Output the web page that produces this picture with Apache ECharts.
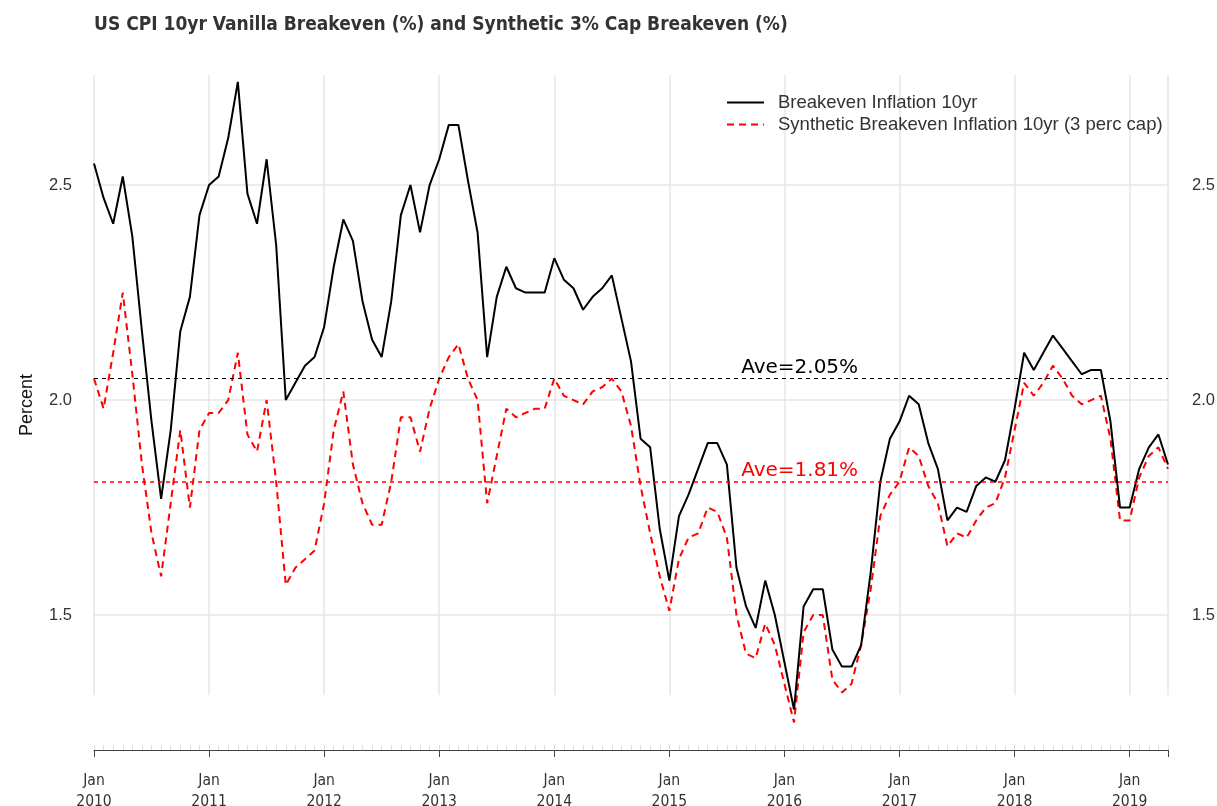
<!DOCTYPE html>
<html>
<head>
<meta charset="UTF-8">
<title>US CPI 10yr Breakeven</title>
<script src="https://cdn.jsdelivr.net/npm/echarts@6/dist/echarts.min.js"></script>
<style>
  html, body { margin: 0; padding: 0; background: #fff; overflow: hidden; }
  #main { width: 1217px; height: 806px; }
</style>
</head>
<body>
<div id="main"></div>
<script>
// monthly, Jan 2010 .. May 2019
var months = [];
for (var y = 2010; y <= 2019; y++) {
  for (var m = 1; m <= 12; m++) {
    if (y === 2019 && m > 5) break;
    months.push(y + '-' + (m < 10 ? '0' + m : m));
  }
}

var vanilla = [
  2.55, 2.47, 2.41, 2.52, 2.38, 2.16, 1.95, 1.77, 1.93, 2.16, 2.24, 2.43,
  2.50, 2.52, 2.61, 2.74, 2.48, 2.41, 2.56, 2.36, 2.00, 2.04, 2.08, 2.10,
  2.17, 2.31, 2.42, 2.37, 2.23, 2.14, 2.10, 2.23, 2.43, 2.50, 2.39, 2.50,
  2.56, 2.64, 2.64, 2.51, 2.39, 2.10, 2.24, 2.31, 2.26, 2.25, 2.25, 2.25,
  2.33, 2.28, 2.26, 2.21, 2.24, 2.26, 2.29, 2.19, 2.09, 1.91, 1.89, 1.70,
  1.58, 1.73, 1.78, 1.84, 1.90, 1.90, 1.85, 1.61, 1.52, 1.47, 1.58, 1.50,
  1.39, 1.28, 1.52, 1.56, 1.56, 1.42, 1.38, 1.38, 1.43, 1.60, 1.81, 1.91,
  1.95, 2.01, 1.99, 1.90, 1.84, 1.72, 1.75, 1.74, 1.80, 1.82, 1.81, 1.86,
  1.98, 2.11, 2.07, 2.11, 2.15, 2.12, 2.09, 2.06, 2.07, 2.07, 1.95, 1.75,
  1.75, 1.84, 1.89, 1.92, 1.85
];

var synthetic = [
  2.05, 1.98, 2.11, 2.25, 2.06, 1.85, 1.69, 1.59, 1.76, 1.93, 1.75, 1.93,
  1.97, 1.97, 2.00, 2.11, 1.92, 1.88, 2.00, 1.81, 1.57, 1.61, 1.63, 1.65,
  1.76, 1.93, 2.02, 1.85, 1.76, 1.71, 1.71, 1.81, 1.96, 1.96, 1.88, 1.98,
  2.05, 2.10, 2.13, 2.05, 2.00, 1.76, 1.87, 1.98, 1.96, 1.97, 1.98, 1.98,
  2.05, 2.01, 2.00, 1.99, 2.02, 2.03, 2.05, 2.02, 1.94, 1.80, 1.69, 1.59,
  1.51, 1.63, 1.68, 1.69, 1.75, 1.74, 1.68, 1.50, 1.41, 1.40, 1.48, 1.43,
  1.34, 1.25, 1.46, 1.50, 1.50, 1.35, 1.32, 1.34, 1.43, 1.56, 1.73, 1.78,
  1.81, 1.89, 1.87, 1.80, 1.76, 1.66, 1.69, 1.68, 1.72, 1.75, 1.76, 1.82,
  1.93, 2.04, 2.01, 2.04, 2.08, 2.05, 2.01, 1.99, 2.00, 2.01, 1.91, 1.72,
  1.72, 1.82, 1.87, 1.89, 1.84
];

var aveVanilla = 2.05;
var aveSynthetic = 1.81;
var yTicks = [1.5, 2.0, 2.5];
var labelMonth = '2016-03';

var narrow = '"DejaVu Sans Condensed", "Liberation Sans", sans-serif';

var last = months.length - 1;
function isJan(i) { return months[i].slice(5) === '01'; }
function janOrEnd(i) { return isJan(i) || i === last; }

// average line from first to last month, drawn as a two-point markLine
function aveLine(v, color, w) {
  return [
    { coord: [months[0], v], lineStyle: { color: color, type: [4, 4], width: w } },
    { coord: [months[last], v] }
  ];
}
function aveLabel(v, color) {
  return {
    coord: [labelMonth, v],
    label: {
      show: true, position: 'top', distance: 1, offset: [-4, 0],
      formatter: 'Ave=' + v.toFixed(2) + '%',
      fontFamily: 'DejaVu Sans', fontSize: 20, color: color
    }
  };
}

var chart = echarts.init(document.getElementById('main'));

var yBase = {
  type: 'value',
  min: 1.314,
  max: 2.756,
  axisLine: { show: false },
  axisTick: { show: false, customValues: yTicks },
  axisLabel: {
    customValues: yTicks,
    color: '#333',
    fontFamily: 'Liberation Sans',
    fontSize: 16.5,
    formatter: function (v) { return v.toFixed(1); }
  }
};

var option = {
  backgroundColor: '#fff',
  animation: false,
  title: {
    text: 'US CPI 10yr Vanilla Breakeven (%) and Synthetic 3% Cap Breakeven (%)',
    left: 89,
    top: 11,
    textStyle: { fontFamily: narrow, fontWeight: 'bold', fontSize: 19, color: '#333' }
  },
  legend: {
    orient: 'vertical',
    left: 721,
    top: 88,
    itemWidth: 37,
    itemHeight: 12,
    itemGap: 3,
    itemStyle: { opacity: 0 },
    textStyle: { fontFamily: 'Liberation Sans', fontSize: 18.5, color: '#333', padding: [0, 0, 0, 9] },
    data: ['Breakeven Inflation 10yr', 'Synthetic Breakeven Inflation 10yr (3 perc cap)']
  },
  grid: { left: 94, right: 49, top: 75, bottom: 111, outerBoundsMode: 'none', containLabel: false },
  xAxis: [{
    type: 'category',
    data: months,
    boundaryGap: false,
    position: 'bottom',
    offset: 55,
    axisLine: { lineStyle: { color: '#444', width: 1 } },
    axisTick: { interval: function (i) { return janOrEnd(i); }, length: 7, lineStyle: { color: '#444' } },
    axisLabel: {
      interval: function (i) { return isJan(i); },
      formatter: function (v) { return 'Jan\n' + v.slice(0, 4); },
      color: '#333',
      fontFamily: narrow,
      fontSize: 15.5,
      lineHeight: 21,
      margin: 20
    },
    splitLine: { show: true, interval: function (i) { return janOrEnd(i); }, lineStyle: { color: '#e6e6e6', width: 1.5 } }
  }, {
    type: 'category',
    data: months,
    boundaryGap: false,
    position: 'bottom',
    offset: 55,
    axisLine: { show: false },
    axisTick: { interval: 0, inside: true, length: 5, lineStyle: { color: '#ddd' } },
    axisLabel: { show: false },
    splitLine: { show: false }
  }],
  yAxis: [
    echarts.util.merge({
      position: 'left',
      name: 'Percent',
      nameLocation: 'middle',
      nameGap: 58,
      nameTextStyle: { fontFamily: 'Liberation Sans', fontSize: 18, color: '#111', padding: [0, 40, 0, 0] },
      axisLabel: { margin: 22 },
      splitLine: { show: true, lineStyle: { color: '#e6e6e6', width: 1.5 } }
    }, yBase, false),
    echarts.util.merge({
      position: 'right',
      axisLabel: { margin: 24 },
      splitLine: { show: false }
    }, yBase, false)
  ],
  series: [{
    name: 'Synthetic Breakeven Inflation 10yr (3 perc cap)',
    type: 'line',
    data: synthetic,
    symbol: 'none',
    clip: false,
    z: 2,
    lineStyle: { color: '#ff0000', width: 2, type: [7, 5] },
    itemStyle: { color: '#ff0000' },
    markLine: {
      silent: true,
      symbol: 'none',
      label: { show: false },
      data: [aveLine(aveSynthetic, '#ff0000', 1.6)]
    },
    markPoint: {
      silent: true,
      symbol: 'circle',
      symbolSize: 0,
      data: [aveLabel(aveSynthetic, '#ff0000')]
    }
  }, {
    name: 'Breakeven Inflation 10yr',
    type: 'line',
    data: vanilla,
    symbol: 'none',
    clip: false,
    z: 3,
    lineStyle: { color: '#000', width: 2 },
    itemStyle: { color: '#000' },
    markLine: {
      silent: true,
      symbol: 'none',
      label: { show: false },
      data: [aveLine(aveVanilla, '#000000', 1)]
    },
    markPoint: {
      silent: true,
      symbol: 'circle',
      symbolSize: 0,
      data: [aveLabel(aveVanilla, '#000000')]
    }
  }]
};

chart.setOption(option);
</script>
</body>
</html>
